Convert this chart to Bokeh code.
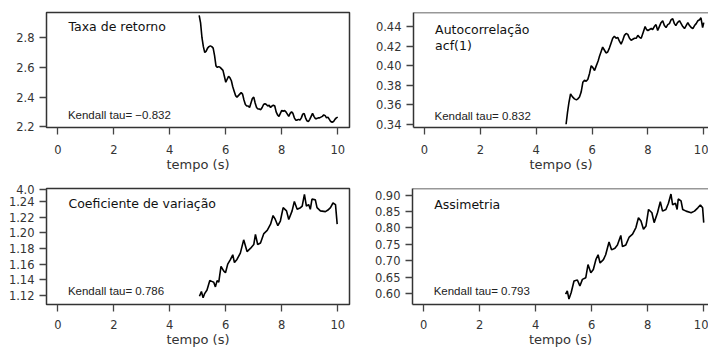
from bokeh.plotting import figure
from bokeh.models import Label, FixedTicker, Range1d, Span
from bokeh.layouts import column, row
from bokeh.embed import file_html
from bokeh.resources import INLINE

# ---------------- data ----------------
taxa_t = [5.05, 5.10, 5.15, 5.20, 5.25, 5.30, 5.35, 5.40, 5.45, 5.50, 5.55, 5.60, 5.65, 5.70,
          5.75, 5.80, 5.85, 5.90, 5.95, 6.00, 6.05, 6.10, 6.15, 6.20, 6.25, 6.30, 6.35, 6.40,
          6.45, 6.50, 6.55, 6.60, 6.65, 6.70, 6.75, 6.80, 6.85, 6.90, 6.95, 7.00, 7.05, 7.10,
          7.15, 7.20, 7.25, 7.30, 7.35, 7.40, 7.45, 7.50, 7.55, 7.60, 7.65, 7.70, 7.75, 7.80,
          7.85, 7.90, 7.95, 8.00, 8.05, 8.10, 8.15, 8.20, 8.25, 8.30, 8.35, 8.40, 8.45, 8.50,
          8.55, 8.60, 8.65, 8.70, 8.75, 8.80, 8.85, 8.90, 8.95, 9.00, 9.05, 9.10, 9.15, 9.20,
          9.25, 9.30, 9.35, 9.40, 9.45, 9.50, 9.55, 9.60, 9.65, 9.70, 9.75, 9.80, 9.85, 9.90,
          9.95, 10.00]
taxa_v = [2.95, 2.90, 2.80, 2.74, 2.70, 2.71, 2.73, 2.74, 2.745, 2.74, 2.73, 2.68, 2.61, 2.60,
          2.605, 2.60, 2.59, 2.58, 2.54, 2.50, 2.52, 2.54, 2.53, 2.51, 2.47, 2.44, 2.41, 2.40,
          2.41, 2.42, 2.43, 2.42, 2.38, 2.35, 2.34, 2.34, 2.33, 2.36, 2.39, 2.40, 2.36, 2.33,
          2.32, 2.32, 2.315, 2.33, 2.35, 2.355, 2.35, 2.34, 2.345, 2.33, 2.34, 2.345, 2.34, 2.30,
          2.28, 2.27, 2.29, 2.31, 2.305, 2.31, 2.30, 2.285, 2.27, 2.29, 2.30, 2.29, 2.26, 2.245,
          2.245, 2.25, 2.245, 2.26, 2.285, 2.29, 2.26, 2.24, 2.235, 2.25, 2.27, 2.29, 2.27, 2.255,
          2.255, 2.26, 2.26, 2.265, 2.27, 2.28, 2.275, 2.26, 2.265, 2.25, 2.235, 2.23, 2.235, 2.25,
          2.26, 2.265]

acf_t = [5.07, 5.12, 5.17, 5.23, 5.30, 5.37, 5.44, 5.49, 5.55, 5.61, 5.67, 5.73, 5.79, 5.85,
         5.91, 5.97, 6.03, 6.09, 6.14, 6.18, 6.22, 6.26, 6.32, 6.38, 6.44, 6.50, 6.56, 6.62,
         6.68, 6.74, 6.80, 6.86, 6.92, 6.98, 7.04, 7.10, 7.16, 7.22, 7.28, 7.34, 7.40, 7.46,
         7.52, 7.58, 7.64, 7.70, 7.76, 7.83, 7.90, 7.95, 8.00, 8.06, 8.12, 8.17, 8.23, 8.29,
         8.35, 8.41, 8.47, 8.53, 8.59, 8.65, 8.71, 8.77, 8.83, 8.89, 8.95, 9.00, 9.06, 9.13,
         9.19, 9.25, 9.31, 9.37, 9.43, 9.49, 9.55, 9.61, 9.67, 9.73, 9.79, 9.85, 9.90, 9.96,
         10.00]
acf_v = [0.340, 0.352, 0.362, 0.371, 0.368, 0.366, 0.365, 0.366, 0.368, 0.373, 0.383, 0.385,
         0.384, 0.386, 0.392, 0.400, 0.398, 0.395, 0.399, 0.402, 0.405, 0.409, 0.414, 0.419,
         0.416, 0.413, 0.414, 0.418, 0.423, 0.428, 0.430, 0.428, 0.429, 0.425, 0.422, 0.426,
         0.431, 0.433, 0.432, 0.428, 0.426, 0.427, 0.428, 0.428, 0.431, 0.429, 0.428, 0.434,
         0.440, 0.437, 0.436, 0.437, 0.438, 0.437, 0.440, 0.442, 0.436, 0.440, 0.444, 0.446,
         0.441, 0.439, 0.442, 0.443, 0.447, 0.448, 0.443, 0.441, 0.444, 0.446, 0.443, 0.440,
         0.438, 0.441, 0.444, 0.441, 0.439, 0.438, 0.441, 0.443, 0.446, 0.447, 0.449, 0.439,
         0.444]

cv_t = [5.06, 5.13, 5.19, 5.24, 5.33, 5.43, 5.50, 5.57, 5.63, 5.69, 5.75, 5.83, 5.93, 5.99,
        6.07, 6.17, 6.25, 6.31, 6.40, 6.52, 6.64, 6.76, 6.88, 7.00, 7.06, 7.14, 7.24, 7.36,
        7.48, 7.60, 7.69, 7.77, 7.86, 7.95, 8.05, 8.17, 8.25, 8.37, 8.45, 8.55, 8.67, 8.73,
        8.81, 8.88, 8.96, 9.02, 9.08, 9.20, 9.26, 9.38, 9.56, 9.65, 9.74, 9.83, 9.92, 9.98]
cv_v = [1.119, 1.125, 1.117, 1.122, 1.127, 1.139, 1.138, 1.137, 1.131, 1.139, 1.137, 1.157,
        1.151, 1.149, 1.160, 1.166, 1.172, 1.162, 1.166, 1.174, 1.191, 1.176, 1.180, 1.185,
        1.198, 1.185, 1.187, 1.199, 1.203, 1.211, 1.222, 1.217, 1.209, 1.215, 1.232, 1.228,
        1.217, 1.228, 1.240, 1.230, 1.232, 1.234, 1.249, 1.234, 1.236, 1.230, 1.243, 1.242,
        1.232, 1.228, 1.227, 1.229, 1.232, 1.238, 1.236, 1.211]

ass_t = [5.07, 5.13, 5.19, 5.27, 5.37, 5.49, 5.58, 5.67, 5.79, 5.87, 5.97, 6.06, 6.15, 6.23,
         6.30, 6.42, 6.50, 6.62, 6.71, 6.83, 6.92, 7.04, 7.10, 7.22, 7.34, 7.46, 7.58, 7.67,
         7.76, 7.85, 7.94, 8.03, 8.15, 8.23, 8.35, 8.45, 8.53, 8.65, 8.74, 8.83, 8.89, 8.99,
         9.05, 9.09, 9.19, 9.25, 9.37, 9.55, 9.67, 9.79, 9.88, 9.96, 10.00]
ass_v = [0.598, 0.608, 0.583, 0.603, 0.638, 0.641, 0.623, 0.643, 0.648, 0.688, 0.663, 0.673,
         0.703, 0.718, 0.693, 0.703, 0.718, 0.757, 0.733, 0.738, 0.748, 0.777, 0.743, 0.748,
         0.772, 0.781, 0.801, 0.831, 0.821, 0.796, 0.806, 0.856, 0.846, 0.816, 0.846, 0.880,
         0.851, 0.856, 0.875, 0.903, 0.870, 0.875, 0.856, 0.888, 0.882, 0.856, 0.851, 0.846,
         0.851, 0.861, 0.870, 0.861, 0.816]

x_ticks = [0, 2, 4, 6, 8, 10]
x_tick_labels = ["0", "2", "4", "6", "8", "10"]
taxa_ticks = [2.2, 2.4, 2.6, 2.8]
taxa_tick_labels = ["2.2", "2.4", "2.6", "2.8"]
acf_ticks = [0.34, 0.36, 0.38, 0.40, 0.42, 0.44]
acf_tick_labels = ["0.34", "0.36", "0.38", "0.40", "0.42", "0.44"]
cv_ticks = [1.12, 1.14, 1.16, 1.18, 1.20, 1.22, 1.24, 1.2553]
cv_tick_labels = ["1.12", "1.14", "1.16", "1.18", "1.20", "1.22", "1.24", "4.0"]
ass_ticks = [0.60, 0.65, 0.70, 0.75, 0.80, 0.85, 0.90]
ass_tick_labels = ["0.60", "0.65", "0.70", "0.75", "0.80", "0.85", "0.90"]

x_label = "tempo (s)"
titles = [["Taxa de retorno"], ["Autocorrelação", "acf(1)"],
          ["Coeficiente de variação"], ["Assimetria"]]
kendall = ["Kendall tau= −0.832", "Kendall tau= 0.832",
           "Kendall tau= 0.786", "Kendall tau= 0.793"]

# ---------------- style ----------------
BOX = "#333333"
TICK = "#444444"
LAB = "#333333"
TICK_FONT = "DejaVu Sans"
TITLE_FONT = "DejaVu Sans"
KT_FONT = "Liberation Sans"


def panel(t, v, xr, yr, yt, ytl, w, h, bl, br, bt, bb, boxed,
          title_lines, title_y, title_dy, kt, kt_y, lab_standoff, axlab_standoff):
    p = figure(width=w, height=h, x_range=Range1d(*xr), y_range=Range1d(*yr),
               output_backend="svg", toolbar_location=None, tools="",
               min_border_left=bl, min_border_right=br,
               min_border_top=bt, min_border_bottom=bb,
               background_fill_color="white", border_fill_color="white")
    p.xgrid.visible = False
    p.ygrid.visible = False
    for ax in (p.xaxis[0], p.yaxis[0]):
        ax.major_tick_out = 7
        ax.major_tick_in = 0
        ax.minor_tick_line_color = None
        ax.major_tick_line_color = TICK
        ax.major_tick_line_width = 1.3
        ax.major_label_text_font = TICK_FONT
        ax.major_label_text_font_size = "11.5px"
        ax.major_label_text_color = LAB
    p.xaxis.ticker = FixedTicker(ticks=x_ticks)
    p.xaxis.major_label_overrides = dict(zip(x_ticks, x_tick_labels))
    p.yaxis.ticker = FixedTicker(ticks=yt)
    p.yaxis.major_label_overrides = dict(zip(yt, ytl))
    p.yaxis.major_label_standoff = 5
    p.xaxis.major_label_standoff = lab_standoff
    p.xaxis.axis_label = x_label
    p.xaxis.axis_label_text_font = TITLE_FONT
    p.xaxis.axis_label_text_font_size = "13px"
    p.xaxis.axis_label_text_font_style = "normal"
    p.xaxis.axis_label_text_color = "#333333"
    p.xaxis.axis_label_standoff = axlab_standoff
    if boxed:
        p.outline_line_color = BOX
        p.outline_line_width = 1.5
        p.xaxis.axis_line_color = None
        p.yaxis.axis_line_color = None
    else:
        p.outline_line_color = None
        p.xaxis.axis_line_color = BOX
        p.xaxis.axis_line_width = 1.5
        p.yaxis.axis_line_color = BOX
        p.yaxis.axis_line_width = 1.5
        p.add_layout(Span(location=yr[1], dimension="width",
                          line_color=BOX, line_width=1.5))
    p.line(t, v, line_color="black", line_width=1.6)
    for i, s in enumerate(title_lines):
        p.add_layout(Label(x=0.38, y=title_y - i * title_dy, text=s,
                           text_font=TITLE_FONT, text_font_size="12.5px",
                           text_color="#111111", text_baseline="middle",
                           text_align="left"))
    p.add_layout(Label(x=0.36, y=kt_y, text=kt, text_font=KT_FONT,
                       text_font_size="11.5px", text_color="#222222",
                       text_baseline="middle", text_align="left"))
    return p


p1 = panel(taxa_t, taxa_v, (-0.404, 10.42), (2.195, 2.970), taxa_ticks, taxa_tick_labels,
           354, 175, 46, 5, 12, 46, True,
           titles[0], 2.879, 0.0, kendall[0], 2.277, 10, 0)
p2 = panel(acf_t, acf_v, (-0.394, 10.17), (0.3367, 0.4544), acf_ticks, acf_tick_labels,
           354, 175, 59, 0, 10, 48, False,
           titles[1], 0.4366, 0.0157, kendall[1], 0.3488, 10, 0)
p3 = panel(cv_t, cv_v, (-0.404, 10.42), (1.1085, 1.2565), cv_ticks, cv_tick_labels,
           354, 174, 46, 5, 13, 41, True,
           titles[2], 1.238, 0.0, kendall[2], 1.126, 8, 0)
p4 = panel(ass_t, ass_v, (-0.394, 10.17), (0.5664, 0.920), ass_ticks, ass_tick_labels,
           354, 174, 58, 0, 13, 42, False,
           titles[3], 0.872, 0.0, kendall[3], 0.608, 8, 0)

layout = column(row(p1, p2), row(p3, p4))

with open("out.html", "w") as f:
    f.write(file_html(layout, INLINE))
